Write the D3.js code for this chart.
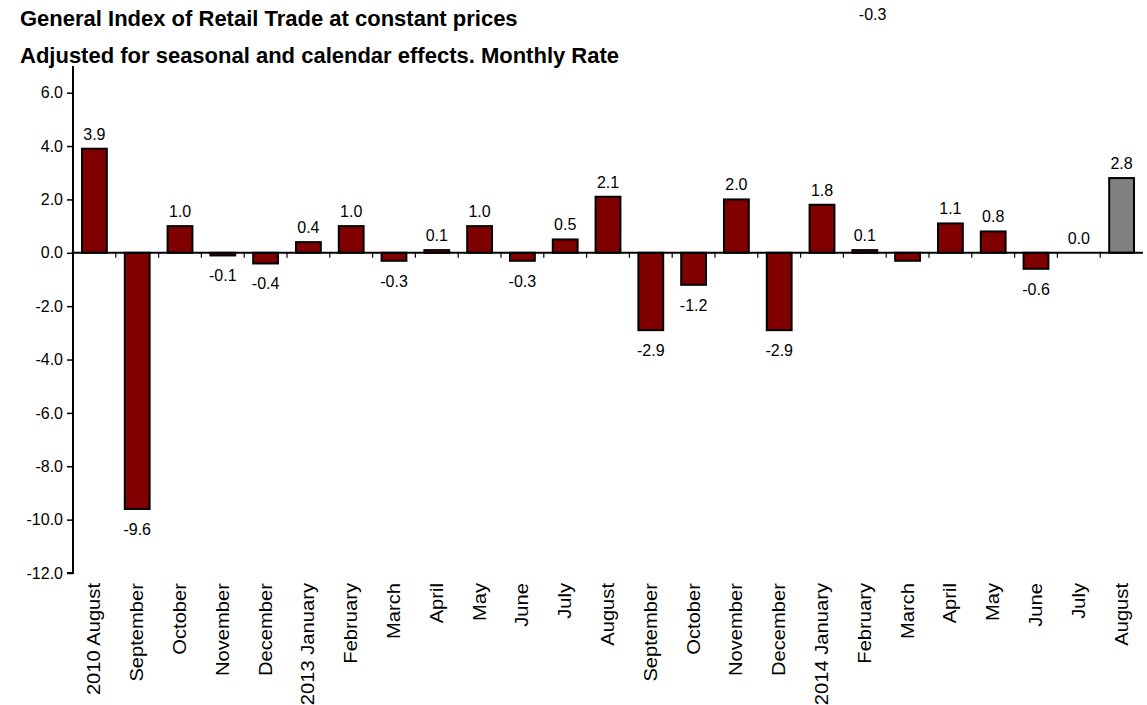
<!DOCTYPE html>
<html>
<head>
<meta charset="utf-8">
<script src="https://cdn.jsdelivr.net/npm/d3@7"></script>
<style>
  body { margin: 0; background: #fff; }
  text { font-family: "Liberation Sans", Arial, sans-serif; fill: #000; }
</style>
</head>
<body>
<svg id="chart" width="1147" height="705"></svg>
<script>
// categories as they appear on the axis
var months = ["2010 August", "September", "October", "November", "December",
  "2013 January", "February", "March", "April", "May", "June", "July", "August",
  "September", "October", "November", "December", "2014 January", "February",
  "March", "April", "May", "June", "July", "August"];

// monthly rate (%)
var rates = [3.9, -9.6, 1.0, -0.1, -0.4, 0.4, 1.0, -0.3, 0.1, 1.0, -0.3, 0.5, 2.1,
  -2.9, -1.2, 2.0, -2.9, 1.8, 0.1, -0.3, 1.1, 0.8, -0.6, 0.0, 2.8];

var yTicks = [-12, -10, -8, -6, -4, -2, 0, 2, 4, 6];

var titleLines = ["General Index of Retail Trade at constant prices",
  "Adjusted for seasonal and calendar effects. Monthly Rate"];

var data = months.map(function(m, i) {
    return { key: i, name: m, value: rates[i], last: i === months.length - 1 };
});

// plain hyphen for negatives, like the original
var fmt = function(v) { return d3.format(".1f")(v).replace("\u2212", "-"); };

var svg = d3.select("#chart");

var margin = { left: 73, right: 4, top: 66, bottom: 132 };
var width = 1147 - margin.left - margin.right;
var height = 705 - margin.top - margin.bottom;

var x = d3.scaleBand()
    .domain(data.map(function(d) { return d.key; }))
    .range([0, width])
    .paddingInner(0.42)
    .paddingOuter(0.21);

var y = d3.scaleLinear()
    .domain([-12, 7])
    .range([height, 0]);

var g = svg.append("g")
    .attr("transform", "translate(" + margin.left + "," + margin.top + ")");

// title
svg.selectAll(".title")
    .data(titleLines)
    .enter().append("text")
    .attr("class", "title")
    .attr("x", 20)
    .attr("y", function(d, i) { return 26 + i * 37; })
    .style("font-weight", "bold")
    .style("font-size", "22px")
    .text(function(d) { return d; });

// y axis
var yAxis = d3.axisLeft(y)
    .tickValues(yTicks)
    .tickSize(6)
    .tickFormat(fmt);

var ya = g.append("g").call(yAxis);
ya.select(".domain").attr("stroke", "#000").attr("stroke-width", 2)
    .attr("d", "M0," + y(7) + "V" + y(-12) + "H-6");
ya.selectAll(".tick line").attr("stroke", "#000").attr("stroke-width", 1.5);
ya.selectAll(".tick text")
    .attr("x", -10)
    .style("font-size", "16px")
    .style("font-family", "Liberation Sans, Arial, sans-serif");

// bars
g.selectAll(".bar")
    .data(data)
    .enter().append("rect")
    .attr("class", "bar")
    .attr("x", function(d) { return x(d.key); })
    .attr("width", x.bandwidth())
    .attr("y", function(d) { return y(Math.max(0, d.value)); })
    .attr("height", function(d) { return Math.abs(y(d.value) - y(0)); })
    .attr("fill", function(d) { return d.last ? "#808080" : "#800000"; })
    .attr("stroke", "#000")
    .attr("stroke-width", 2);

// zero line with category ticks between bars
var step = x.step();
g.append("line")
    .attr("x1", 0).attr("x2", width)
    .attr("y1", y(0)).attr("y2", y(0))
    .attr("stroke", "#000").attr("stroke-width", 2);

g.selectAll(".ctick")
    .data(data.slice(1))
    .enter().append("line")
    .attr("class", "ctick")
    .attr("x1", function(d) { return x(d.key) - x.paddingInner() * step / 2; })
    .attr("x2", function(d) { return x(d.key) - x.paddingInner() * step / 2; })
    .attr("y1", y(0)).attr("y2", y(0) + 5)
    .attr("stroke", "#000").attr("stroke-width", 1.2);

// value labels (March 2014 label sits up at the top in the original)
g.selectAll(".vlabel")
    .data(data)
    .enter().append("text")
    .attr("class", "vlabel")
    .attr("text-anchor", "middle")
    .style("font-size", "16px")
    .attr("x", function(d) {
        var cx = x(d.key) + x.bandwidth() / 2;
        return d.key === 19 ? cx - 35 : cx;
    })
    .attr("y", function(d) {
        if (d.key === 19) return 20 - margin.top;
        return d.value >= 0 ? y(d.value) - 9 : y(d.value) + 26;
    })
    .text(function(d) { return fmt(d.value); });

// category labels
g.selectAll(".clabel")
    .data(data)
    .enter().append("text")
    .attr("class", "clabel")
    .attr("text-anchor", "end")
    .style("font-size", "18px")
    .attr("transform", function(d) {
        return "translate(" + (x(d.key) + x.bandwidth() / 2 + 6) + "," + (height + 10) + ") rotate(-90) scale(1.12,1)";
    })
    .text(function(d) { return d.name; });
</script>
</body>
</html>
